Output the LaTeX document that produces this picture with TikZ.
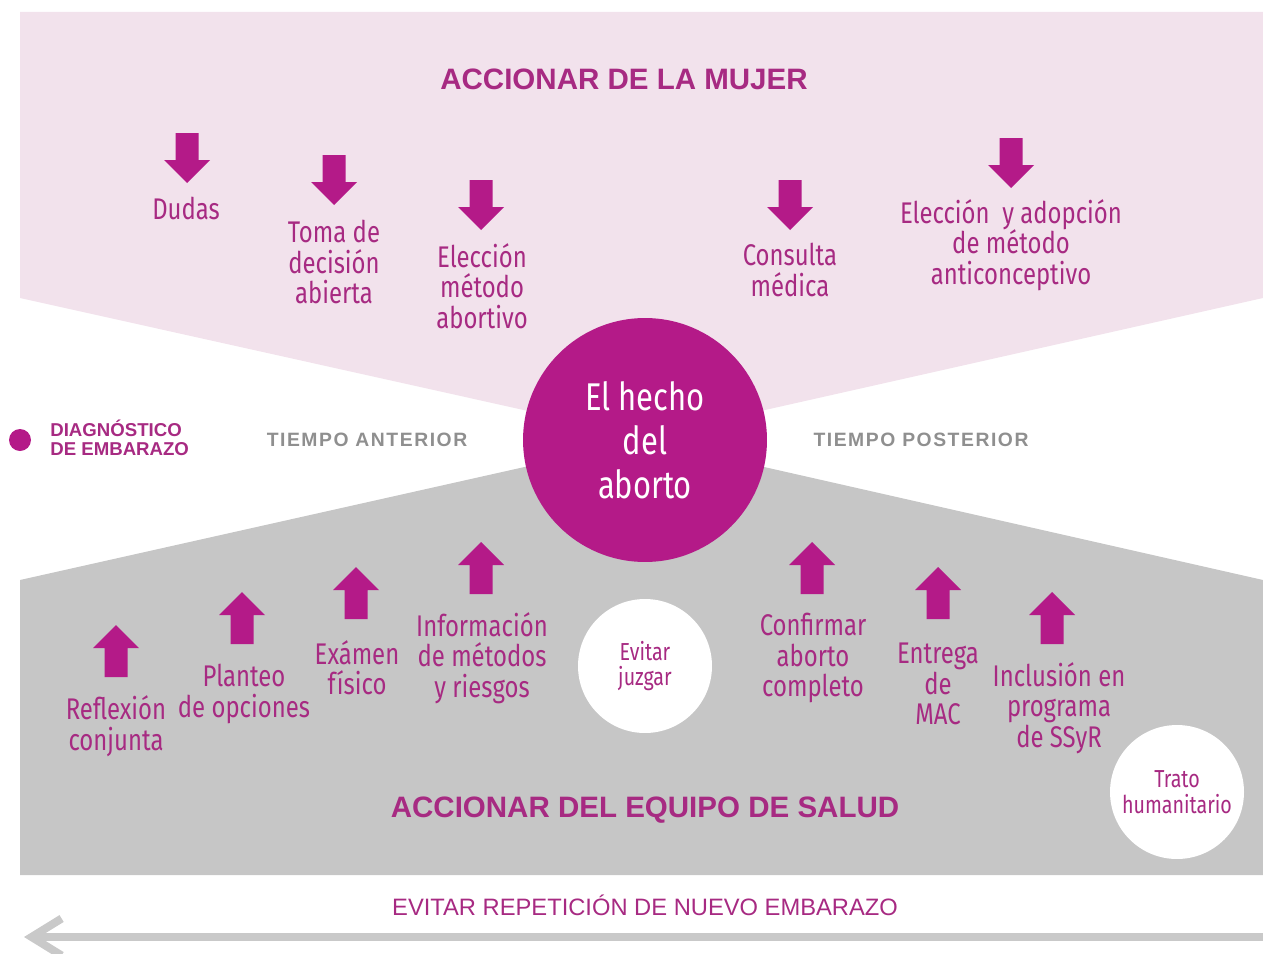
\documentclass[tikz,border=0pt]{standalone}
\usepackage{fontspec}
\setmainfont{Fira Sans}
\newfontfamily\redonda[FakeStretch=0.8]{Fira Sans}
\newfontfamily\helv{Liberation Sans}
\newfontfamily\helvesp[LetterSpace=8]{Liberation Sans}
\usetikzlibrary{arrows.meta}

\definecolor{rosa}{HTML}{F2E2EC}
\definecolor{gris}{HTML}{C6C6C6}
\definecolor{fucsia}{HTML}{B41A88}
\definecolor{textofuc}{HTML}{A72A82}
\definecolor{grisosc}{HTML}{8F8F8F}
\definecolor{grislinea}{HTML}{C9C9C9}

\tikzset{
  pics/abajo/.style={code={\fill[fucsia] (-11.5,0) -- (11.5,0) -- (11.5,27) -- (23,27) -- (0,50) -- (-23,27) -- (-11.5,27) -- cycle;}},
  pics/arriba/.style={code={\fill[fucsia] (0,0) -- (23,23) -- (11.5,23) -- (11.5,52) -- (-11.5,52) -- (-11.5,23) -- (-23,23) -- cycle;}}
}

\begin{document}
\begin{tikzpicture}[x=0.02cm,y=-0.02cm,
  paso/.style={font=\redonda\fontsize{17}{17.3}\selectfont, text=textofuc, align=center, inner sep=0pt},
  titulo/.style={font=\helv\bfseries\fontsize{16.8}{20}\selectfont, text=textofuc, inner sep=0pt},
  tiempo/.style={font=\helvesp\bfseries\fontsize{11}{13}\selectfont, text=grisosc, inner sep=0pt},
  burbuja/.style={circle, fill=white, minimum size=2.68cm, inner sep=0pt, align=center, text=textofuc, font=\redonda\fontsize{14}{14.5}\selectfont}]
\useasboundingbox (0,0) rectangle (1263,953);

% fondos
\fill[rosa] (20,12) -- (1263,12) -- (1263,298) -- (645,437) -- (20,298) -- cycle;
\fill[gris] (20,580) -- (645,440) -- (1263,580) -- (1263,875) -- (20,875) -- cycle;

\node[titulo] (mujer) at (624,79) {ACCIONAR DE LA MUJER};

% accionar de la mujer
\pic at (187,133) {abajo};
\pic at (334,155) {abajo};
\pic at (481,180) {abajo};
\pic at (790,180) {abajo};
\pic at (1011,138) {abajo};
\node[paso] (dudas) at (186,208) {Dudas};
\node[paso] (toma) at (334,262) {Toma de\\decisión\\abierta};
\node[paso] (eleccion) at (482,286) {Elección\\método\\abortivo};
\node[paso] (consulta) at (790,270) {Consulta\\médica};
\node[paso] (anticonc) at (1011,245) {Elección \ y adopción\\de método\\anticonceptivo};

% centro
\fill[fucsia] (20,440) circle (11);
\node[font=\helv\bfseries\fontsize{10.6}{10.8}\selectfont, text=textofuc, align=left, anchor=west, inner sep=0pt] (diagnostico) at (50,438) {DIAGNÓSTICO\\DE EMBARAZO};
\node[tiempo] (anterior) at (367,440) {TIEMPO ANTERIOR};
\node[tiempo] (posterior) at (921,440) {TIEMPO POSTERIOR};
\node[circle, fill=fucsia, minimum size=4.88cm, inner sep=0pt, align=center, text=white, font=\redonda\fontsize{22}{25}\selectfont] (hecho) at (645,440) {El hecho\\del\\aborto};

% accionar del equipo
\pic at (116,625) {arriba};
\pic at (242,592) {arriba};
\pic at (356,567) {arriba};
\pic at (481,542) {arriba};
\pic at (812,542) {arriba};
\pic at (938,567) {arriba};
\pic at (1052,592) {arriba};
\node[paso] (reflexion) at (116,726) {Reflexión\\conjunta};
\node[paso] (planteo) at (244,694) {Planteo\\de opciones};
\node[paso] (examen) at (357,668) {Exámen\\físico};
\node[paso] (informacion) at (482,658) {Información\\de métodos\\y riesgos};
\node[paso] (confirmar) at (813,658) {Confirmar\\aborto\\completo};
\node[paso] (entrega) at (938,684) {Entrega\\de\\MAC};
\node[paso] (inclusion) at (1059,708) {Inclusión en\\programa\\de SSyR};
\node[burbuja] (juzgar) at (645,666) {Evitar\\juzgar};
\node[burbuja] (trato) at (1177,792) {Trato\\humanitario};
\node[titulo] (equipo) at (645,810) {ACCIONAR DEL EQUIPO DE SALUD};

% abajo
\node[font=\helv\fontsize{13.5}{15}\selectfont, text=textofuc, inner sep=0pt] (evitar) at (645,905) {EVITAR REPETICIÓN DE NUEVO EMBARAZO};
\coordinate (inicio) at (1263,937);
\coordinate (fin) at (24,937);
\draw[grislinea, line width=0.16cm, -{Straight Barb[length=0.6cm,width=0.74cm]}] (inicio) -- (fin);
\end{tikzpicture}
\end{document}
